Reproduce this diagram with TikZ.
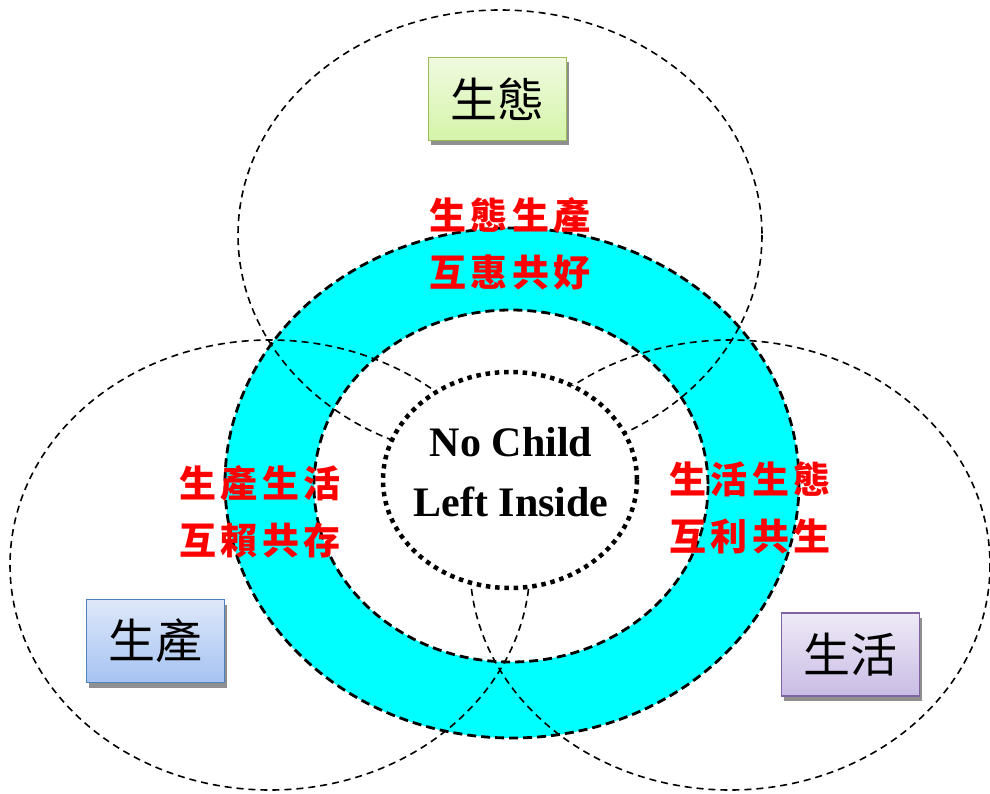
\documentclass[tikz,border=0pt]{standalone}
\usepackage{fontspec}
\setmainfont{Liberation Serif}
\newfontfamily\cjk{Noto Sans CJK TC}
\newfontfamily\cjkred[LetterSpace=11]{Noto Sans CJK TC}
\usetikzlibrary{shadows}
\definecolor{ringcyan}{RGB}{0,255,255}
\definecolor{gtop}{RGB}{240,250,224}
\definecolor{gbot}{RGB}{213,244,168}
\definecolor{gline}{RGB}{155,187,89}
\definecolor{btop}{RGB}{222,232,249}
\definecolor{bbot}{RGB}{166,195,242}
\definecolor{bline}{RGB}{79,129,189}
\definecolor{ptop}{RGB}{238,234,246}
\definecolor{pbot}{RGB}{201,188,229}
\definecolor{pline}{RGB}{128,100,162}
\begin{document}
\begin{tikzpicture}[x=1pt,y=-1pt,
  thindash/.style={draw=black, line width=1.6pt, dash pattern=on 7pt off 5pt},
  ringdash/.style={draw=black, line width=2.8pt, dash pattern=on 9pt off 5pt},
  boxnode/.style={draw, line width=1.5pt, minimum width=138pt, minimum height=83pt,
    inner sep=0pt, font=\cjk\fontsize{47}{50}\selectfont,
    drop shadow={shadow xshift=2pt, shadow yshift=-5pt, fill=black!55, opacity=0.8}},
  redtxt/.style={text=red, font=\cjkred\bfseries\fontsize{37}{57}\selectfont, align=center, inner sep=0pt},
  centertxt/.style={font=\bfseries\fontsize{42}{60}\selectfont, align=center, inner sep=0pt}
]
\useasboundingbox (0,0) rectangle (990,794);
% ring
\fill[ringcyan, even odd rule] (512,483) ellipse [x radius=287, y radius=255]
  (511,486) ellipse [x radius=197, y radius=176];
\draw[ringdash] (512,483) ellipse [x radius=287, y radius=255];
\draw[ringdash] (511,486) ellipse [x radius=197, y radius=176];
% three domains
\draw[thindash] (500,235) ellipse [x radius=262, y radius=225];
\draw[thindash] (270,565) ellipse [x radius=260, y radius=225];
\draw[thindash] (730,565) ellipse [x radius=260, y radius=225];
% center
\draw[line width=4.5pt, dash pattern=on 4.5pt off 4.8pt, fill=white]
  (510,480) ellipse [x radius=127, y radius=108];
\node[centertxt] (nc) at (511,472) {No Child\\Left Inside};
% red texts
\node[redtxt] (t1) at (510,244) {生態生產\\互惠共好};
\node[redtxt] (t2) at (260,512) {生產生活\\互賴共存};
\node[redtxt] (t3) at (750,508) {生活生態\\互利共生};
% boxes
\node[boxnode, top color=gtop, bottom color=gbot, draw=gline] (b1) at (497.5,99) {生態};
\node[boxnode, top color=btop, bottom color=bbot, draw=bline] (b2) at (155.5,641) {生產};
\node[boxnode, top color=ptop, bottom color=pbot, draw=pline] (b3) at (850.5,654.5) {生活};
\end{tikzpicture}
\end{document}
